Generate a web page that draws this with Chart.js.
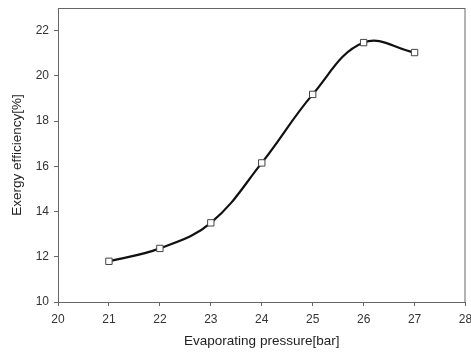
<!DOCTYPE html>
<html>
<head>
<meta charset="utf-8">
<script src="https://cdn.jsdelivr.net/npm/chart.js@4/dist/chart.umd.min.js"></script>
<style>
  html, body { margin: 0; padding: 0; background: #fff; }
  #wrap { width: 471px; height: 353px; }
</style>
</head>
<body>
<div id="wrap"><canvas id="myChart" width="471" height="353"></canvas></div>
<script>
// datos
const pressure = [21, 22, 23, 24, 25, 26, 27];
const exergyEff = [11.8, 12.37, 13.5, 16.15, 19.18, 21.47, 21.03];
const xTicks = [20, 21, 22, 23, 24, 25, 26, 27, 28];
const yTicks = [10, 12, 14, 16, 18, 20, 22];

const axisColor = '#666';

// marco alrededor del area del grafico
const frame = {
    id: 'frame',
    afterDraw(chart) {
        const a = chart.chartArea;
        const c = chart.ctx;
        c.save();
        c.strokeStyle = axisColor;
        c.lineWidth = 1;
        c.strokeRect(a.left + 0.5, a.top + 0.5, a.right - a.left - 1, a.bottom - a.top);
        c.restore();
    }
};

const ctx = document.getElementById('myChart');
new Chart(ctx, {
    type: 'line',
    data: {
        datasets: [{
            data: pressure.map((p, i) => ({ x: p, y: exergyEff[i] })),
            borderColor: '#111',
            borderWidth: 2.2,
            tension: 0.4,
            pointStyle: 'rect',
            pointRadius: 4.5,
            pointBackgroundColor: '#fff',
            pointBorderColor: '#444',
            pointBorderWidth: 1
        }]
    },
    options: {
        responsive: false,
        animation: false,
        layout: { padding: { top: 8, right: 5, left: 5, bottom: 0 } },
        plugins: { legend: { display: false }, tooltip: { enabled: false } },
        scales: {
            x: {
                type: 'linear',
                min: 20, max: 28,
                afterBuildTicks: ax => { ax.ticks = xTicks.map(v => ({ value: v })); },
                afterFit: ax => { ax.paddingRight = 0; ax.paddingLeft = 0; ax.height = 51; },
                grid: { drawOnChartArea: false, drawTicks: true, tickLength: 4, color: axisColor },
                border: { color: axisColor },
                ticks: { color: '#333', font: { family: 'Liberation Sans', size: 12 }, padding: 6, maxRotation: 0 },
                title: { display: true, text: 'Evaporating pressure[bar]', color: '#222', font: { family: 'Liberation Sans', size: 13.5 }, padding: { top: 5 } }
            },
            y: {
                min: 10, max: 23,
                afterBuildTicks: ax => { ax.ticks = yTicks.map(v => ({ value: v })); },
                afterFit: ax => { ax.paddingTop = 0; ax.paddingBottom = 0; ax.width = 53; },
                grid: { drawOnChartArea: false, drawTicks: true, tickLength: 4, color: axisColor },
                border: { color: axisColor },
                ticks: { color: '#333', font: { family: 'Liberation Sans', size: 12 }, padding: 5 },
                title: { display: true, text: 'Exergy efficiency[%]', color: '#222', font: { family: 'Liberation Sans', size: 13.5 }, padding: { bottom: 4 } }
            }
        }
    },
    plugins: [frame]
});
</script>
</body>
</html>
